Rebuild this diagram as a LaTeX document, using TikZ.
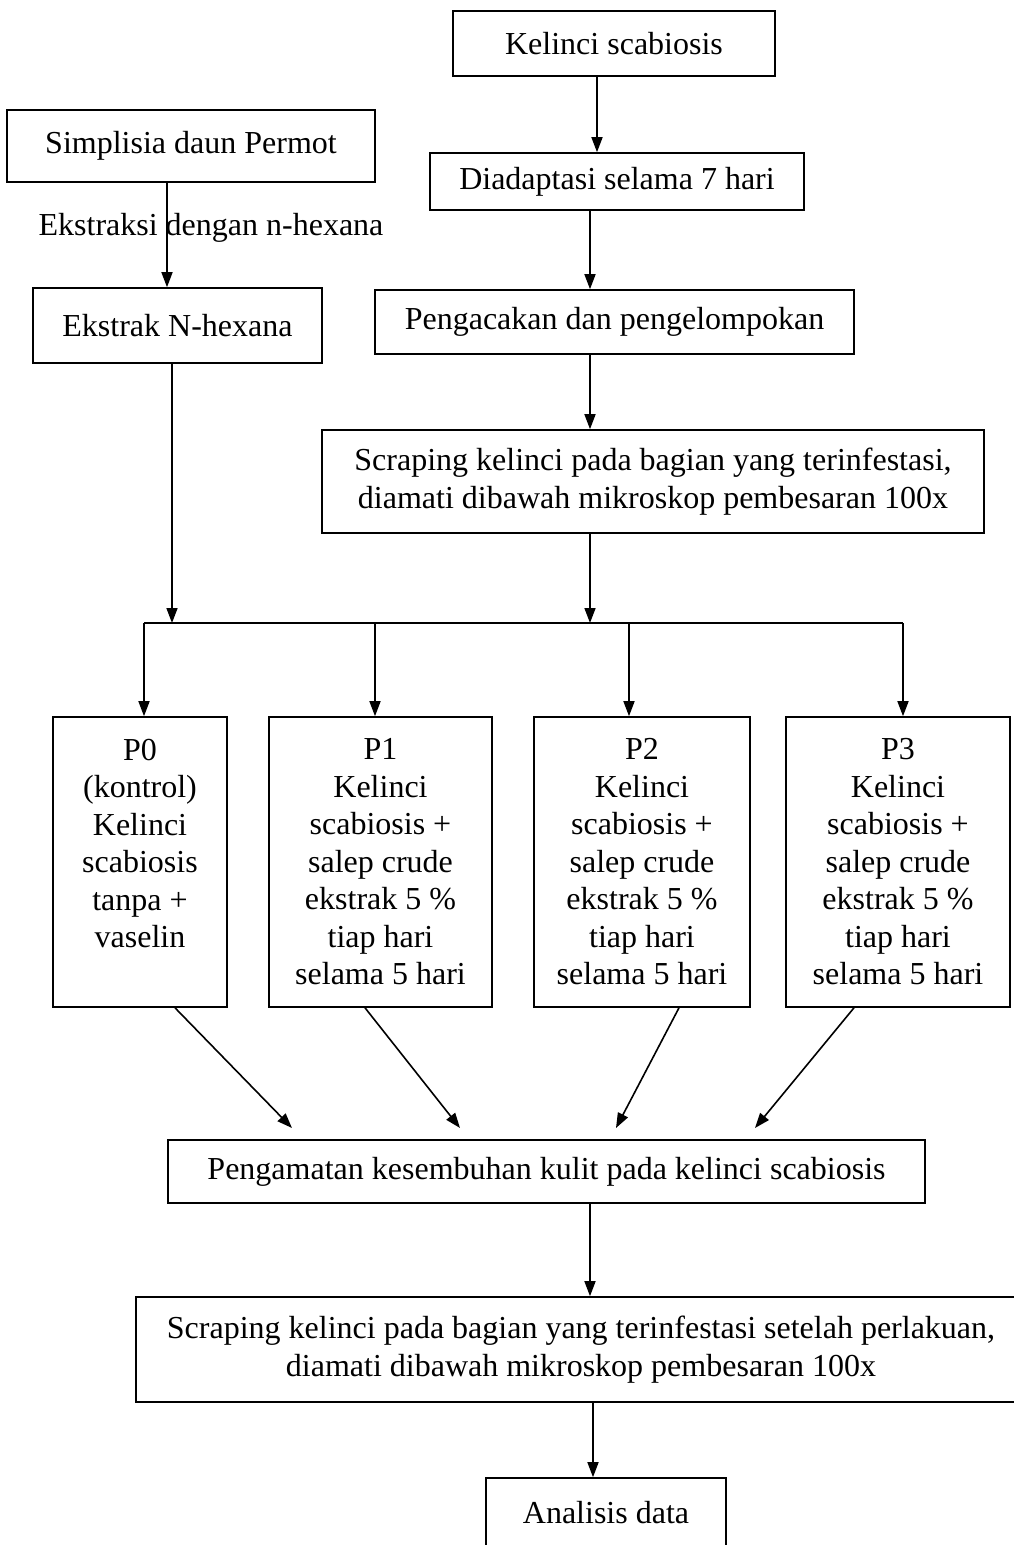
\documentclass[tikz,border=0pt]{standalone}
\usepackage{fontspec}
\setmainfont{Liberation Serif}
\usetikzlibrary{arrows.meta}
\begin{document}
\begin{tikzpicture}[x=1pt,y=-1pt,
  box/.style={draw, line width=1.6pt, inner sep=0pt, align=center, font=\fontsize{32}{37.5}\selectfont},
  plain/.style={inner sep=0pt, align=center, font=\fontsize{32}{37.5}\selectfont},
  arr/.style={line width=1.6pt, -{Triangle[length=15pt,width=11pt]}},
  ln/.style={line width=2pt}]
\useasboundingbox (0,0) rectangle (1014,1545);
\fill[white] (0,0) rectangle (1014,1545);
\clip (0,0) rectangle (1014,1545);
% nodes
\node[box, minimum width=322pt, minimum height=65pt] (kel) at (614,43.5) {Kelinci scabiosis};
\node[box, minimum width=368pt, minimum height=72pt] (sim) at (191,146) {Simplisia daun Permot};
\node[box, minimum width=374pt, minimum height=57pt] (dia) at (617,181.5) {Diadaptasi selama 7 hari};
\node[box, minimum width=289pt, minimum height=75pt] (eks) at (177.5,325.5) {Ekstrak N-hexana};
\node[box, minimum width=479pt, minimum height=64pt] (pen) at (614.5,322) {Pengacakan dan pengelompokan};
\node[box, minimum width=662pt, minimum height=103pt] (scr1) at (653,481.5) {Scraping kelinci pada bagian yang terinfestasi,\\diamati dibawah mikroskop pembesaran 100x};
\node[box, minimum width=174pt, minimum height=290pt] (p0) at (140,862) {P0\\(kontrol)\\Kelinci\\scabiosis\\tanpa +\\vaselin\\\mbox{}};
\node[box, minimum width=223pt, minimum height=290pt] (p1) at (380.5,862) {P1\\Kelinci\\scabiosis +\\salep crude\\ekstrak 5 \%\\tiap hari\\selama 5 hari};
\node[box, minimum width=216pt, minimum height=290pt] (p2) at (642,862) {P2\\Kelinci\\scabiosis +\\salep crude\\ekstrak 5 \%\\tiap hari\\selama 5 hari};
\node[box, minimum width=224pt, minimum height=290pt] (p3) at (898,862) {P3\\Kelinci\\scabiosis +\\salep crude\\ekstrak 5 \%\\tiap hari\\selama 5 hari};
\node[box, minimum width=757pt, minimum height=63pt] (pga) at (546.5,1171.5) {Pengamatan kesembuhan kulit pada kelinci scabiosis};
\node[box, minimum width=890pt, minimum height=105pt] (scr2) at (581,1349.5) {Scraping kelinci pada bagian yang terinfestasi setelah perlakuan,\\diamati dibawah mikroskop pembesaran 100x};
\node[box, minimum width=240pt, minimum height=70pt] (ana) at (606,1513) {Analisis data};
% column coordinates
\coordinate (cK) at (597,0);
\coordinate (cM) at (590,0);
\coordinate (cS) at (167,0);
\coordinate (cE) at (172,0);
\coordinate (cA) at (593,0);
\coordinate (c0) at (144,0);
\coordinate (c1) at (375,0);
\coordinate (c2) at (629,0);
\coordinate (c3) at (903,0);
\coordinate (busL) at (144,623);
\coordinate (busR) at (903,623);
\coordinate (s0) at (175,0);
\coordinate (s1) at (365,0);
\coordinate (s2) at (679,0);
\coordinate (s3) at (854,0);
\coordinate (t0) at (292,1128);
\coordinate (t1) at (460,1128);
\coordinate (t2) at (616,1128);
\coordinate (t3) at (755,1128);
% connectors
\draw[arr] (kel.south -| cK) -- (dia.north -| cK);
\draw[arr] (dia.south -| cM) -- (pen.north -| cM);
\draw[arr] (pen.south -| cM) -- (scr1.north -| cM);
\draw[arr] (scr1.south -| cM) -- (busL -| cM);
\node[plain] (lab) at (211,228) {Ekstraksi dengan n-hexana};
\draw[arr] (sim.south -| cS) -- (eks.north -| cS);
\draw[arr] (eks.south -| cE) -- (busL -| cE);
\draw[ln] (busL) -- (busR);
\draw[arr] (busL -| c0) -- (p0.north -| c0);
\draw[arr] (busL -| c1) -- (p1.north -| c1);
\draw[arr] (busL -| c2) -- (p2.north -| c2);
\draw[arr] (busL -| c3) -- (p3.north -| c3);
\draw[arr] (p0.south -| s0) -- (t0);
\draw[arr] (p1.south -| s1) -- (t1);
\draw[arr] (p2.south -| s2) -- (t2);
\draw[arr] (p3.south -| s3) -- (t3);
\draw[arr] (pga.south -| cM) -- (scr2.north -| cM);
\draw[arr] (scr2.south -| cA) -- (ana.north -| cA);
\end{tikzpicture}
\end{document}
